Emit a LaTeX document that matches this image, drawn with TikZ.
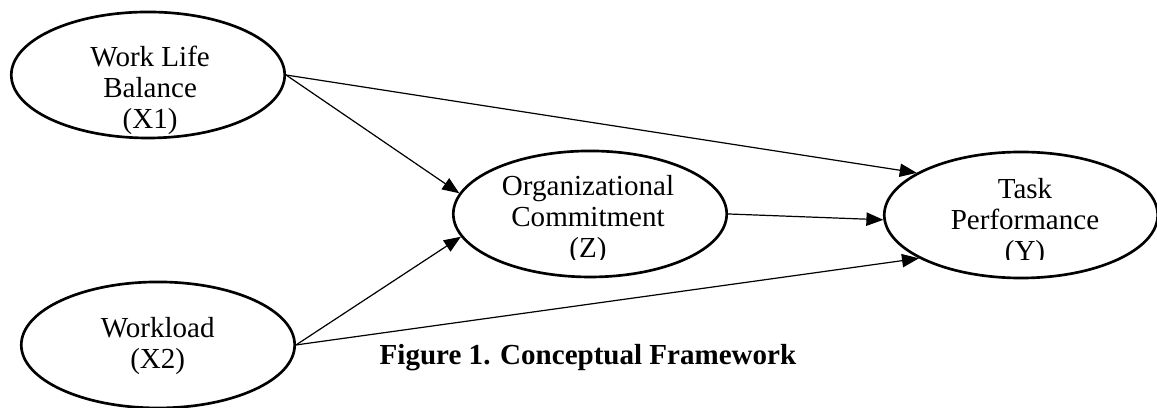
\documentclass[tikz,border=0pt]{standalone}
\usepackage{fontspec}
\setmainfont{Liberation Serif}
\usepackage{tikz}
\usetikzlibrary{arrows.meta,shapes,positioning,calc}

\begin{document}
\begin{tikzpicture}[
    oval/.style={ellipse, draw, line width=1.1pt, minimum width=3.97cm, minimum height=1.83cm, inner sep=0pt},
    txt/.style={align=center, font=\fontsize{12}{12.8}\selectfont, inner sep=0pt},
    arr/.style={-{Triangle[length=7pt,width=5.5pt]}, line width=0.5pt}
]
    \useasboundingbox (0,0) rectangle (16.8,5.924);

    % Variables
    \node[oval] (x1) at (2.149, 4.835) {};
    \node[oval] (x2) at (2.294, 0.915) {};
    \node[oval] (z) at (8.567, 2.817) {};
    \node[oval] (y) at (14.825, 2.802) {};

    % Labels
    \node[txt] (x1lbl) at (2.18, 4.617) {Work Life\\Balance\\(X1)};
    \node[txt] (x2lbl) at (2.29, 0.893) {Workload\\(X2)};
    \begin{scope}
        \clip (6.5, 2.163) rectangle (10.7, 4);
        \node[txt] (zlbl) at (8.538, 2.73) {Organizational\\Commitment\\(Z)};
    \end{scope}
    \begin{scope}
        \clip (12.8, 2.163) rectangle (16.8, 4);
        \node[txt] (ylbl) at (14.883, 2.686) {Task\\Performance\\(Y)};
    \end{scope}

    % Paths
    \draw[arr] (x1.east) -- (z.171);
    \draw[arr] (x1.east) -- (y.158);
    \draw[arr] (z.east) -- (y.182);
    \draw[arr] (x2.east) -- (z.190);
    \draw[arr] (x2.east) -- (y.203);

    % Caption
    \node[font=\bfseries\fontsize{12}{14}\selectfont] (caption) at (8.538, 0.726) {Figure 1. Conceptual Framework};
\end{tikzpicture}
\end{document}
